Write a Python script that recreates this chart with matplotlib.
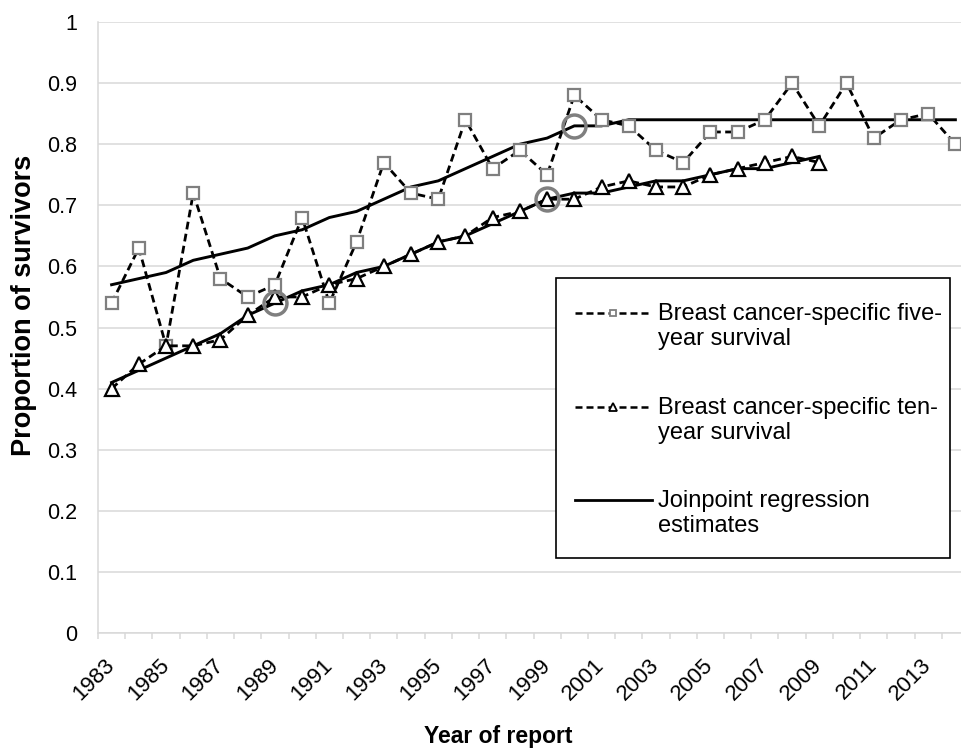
import matplotlib
matplotlib.use("Agg")
import numpy as np
import matplotlib.pyplot as plt
from matplotlib.lines import Line2D
from matplotlib.patches import Rectangle

# Survival proportions by year of report
years = list(range(1983, 2015))
five_year = [0.54, 0.63, 0.47, 0.72, 0.58, 0.55, 0.57, 0.68, 0.54, 0.64,
             0.77, 0.72, 0.71, 0.84, 0.76, 0.79, 0.75, 0.88, 0.84, 0.83,
             0.79, 0.77, 0.82, 0.82, 0.84, 0.90, 0.83, 0.90, 0.81, 0.84,
             0.85, 0.80]
ten_year = [0.40, 0.44, 0.47, 0.47, 0.48, 0.52, 0.55, 0.55, 0.57, 0.58,
            0.60, 0.62, 0.64, 0.65, 0.68, 0.69, 0.71, 0.71, 0.73, 0.74,
            0.73, 0.73, 0.75, 0.76, 0.77, 0.78, 0.77]

# Joinpoint regression estimates
five_fit = [0.57, 0.58, 0.59, 0.61, 0.62, 0.63, 0.65, 0.66, 0.68, 0.69,
            0.71, 0.73, 0.74, 0.76, 0.78, 0.80, 0.81, 0.83, 0.83, 0.84,
            0.84, 0.84, 0.84, 0.84, 0.84, 0.84, 0.84, 0.84, 0.84, 0.84,
            0.84, 0.84]
ten_fit = [0.41, 0.43, 0.45, 0.47, 0.49, 0.52, 0.54, 0.56, 0.57, 0.59,
           0.60, 0.62, 0.64, 0.65, 0.67, 0.69, 0.71, 0.72, 0.72, 0.73,
           0.74, 0.74, 0.75, 0.76, 0.76, 0.77, 0.78]

# Joinpoints (change in slope)
joint_years = [1989, 1999, 2000]
joint_values = [0.54, 0.71, 0.83]

legend_labels = ["Breast cancer-specific five-\nyear survival",
                 "Breast cancer-specific ten-\nyear survival",
                 "Joinpoint regression\nestimates"]

plt.rcParams['font.family'] = ['Liberation Sans', 'DejaVu Sans']

W, H = 961, 749
GRID = '#d9d9d9'
SQ_EDGE = '#7f7f7f'
DASHES = (2.8, 1.6)


def fx(px):
    return px / W


def fy(py):
    return 1 - py / H


fig = plt.figure(figsize=(W / 100, H / 100), dpi=100)
ax = fig.add_axes([fx(98), fy(633), 871 / W, 611 / H])

xi5 = np.arange(len(five_year))
xi10 = np.arange(len(ten_year))

ax.plot(xi5, five_fit, color='black', lw=2.1, zorder=3)
ax.plot(xi10, ten_fit, color='black', lw=2.1, zorder=3)

dash_kw = dict(color='black', lw=2.0, dashes=DASHES, zorder=4,
               markerfacecolor='white', markeredgewidth=1.6)
ax.plot(xi5, five_year, marker='s', markersize=8.5,
        markeredgecolor=SQ_EDGE, **dash_kw)
ax.plot(xi10, ten_year, marker='^', markersize=9.5,
        markeredgecolor='black', **dash_kw)

jx = [years.index(y) for y in joint_years]
ax.plot(jx, joint_values, linestyle='none', marker='o', markersize=16.5,
        markerfacecolor='none', markeredgecolor=SQ_EDGE,
        markeredgewidth=2.5, zorder=5)

# Axes styling
ax.set_xlim(-0.5, len(years) - 0.5)
ax.set_ylim(0, 1)
ax.set_yticks(np.arange(0, 1.01, 0.1))
ax.set_yticklabels(['0'] + ['%.1f' % v for v in np.arange(0.1, 0.95, 0.1)] + ['1'])
ax.set_xticks(range(0, len(years), 2))
ax.set_xticklabels([str(y) for y in years[::2]])
ax.set_xticks(np.arange(-0.5, len(years), 1), minor=True)

ax.tick_params(axis='x', which='major', length=0, pad=21, labelsize=16)
ax.tick_params(axis='x', which='minor', length=4.5, width=1.1, color=GRID)
ax.tick_params(axis='y', length=0, pad=15, labelsize=15.5)
plt.setp(ax.get_xticklabels(), rotation=45, ha='right', va='center',
         rotation_mode='anchor')

ax.grid(True, axis='y', color=GRID, lw=1.1)
ax.set_axisbelow(True)
for side in ['top', 'right']:
    ax.spines[side].set_visible(False)
for side in ['left', 'bottom']:
    ax.spines[side].set_color(GRID)
    ax.spines[side].set_linewidth(1.1)

# Axis titles
fig.text(fx(498), fy(737), 'Year of report', ha='center', va='center',
         fontsize=16.5, fontweight='bold')
fig.text(fx(24), fy(305), 'Proportion of survivors', ha='center',
         va='center', rotation=90, fontsize=19.5, fontweight='bold')

# Legend box drawn by hand so each handle sits on the first label line
fig.add_artist(Rectangle((fx(556), fy(558)), (950 - 556) / W, (558 - 278) / H,
                         transform=fig.transFigure, facecolor='white',
                         edgecolor='black', lw=1.2, zorder=6))
handle_y = [313, 407, 500]
handle_styles = [
    dict(marker='s', markersize=5, markeredgecolor=SQ_EDGE, dashes=DASHES),
    dict(marker='^', markersize=6, markeredgecolor='black', dashes=DASHES),
    dict(marker=None),
]
for hy, style, label in zip(handle_y, handle_styles, legend_labels):
    line = Line2D([fx(575), fx(613), fx(652)], [fy(hy)] * 3,
                  transform=fig.transFigure, color='black',
                  lw=1.8 if style['marker'] else 2.0,
                  markevery=[1], markerfacecolor='white',
                  markeredgewidth=1.3, zorder=7, **style)
    fig.add_artist(line)
    fig.text(fx(658), fy(hy + 13.5), label, ha='left', va='center',
             fontsize=17, linespacing=1.15, zorder=7)

fig.savefig('out.png', dpi=100)
